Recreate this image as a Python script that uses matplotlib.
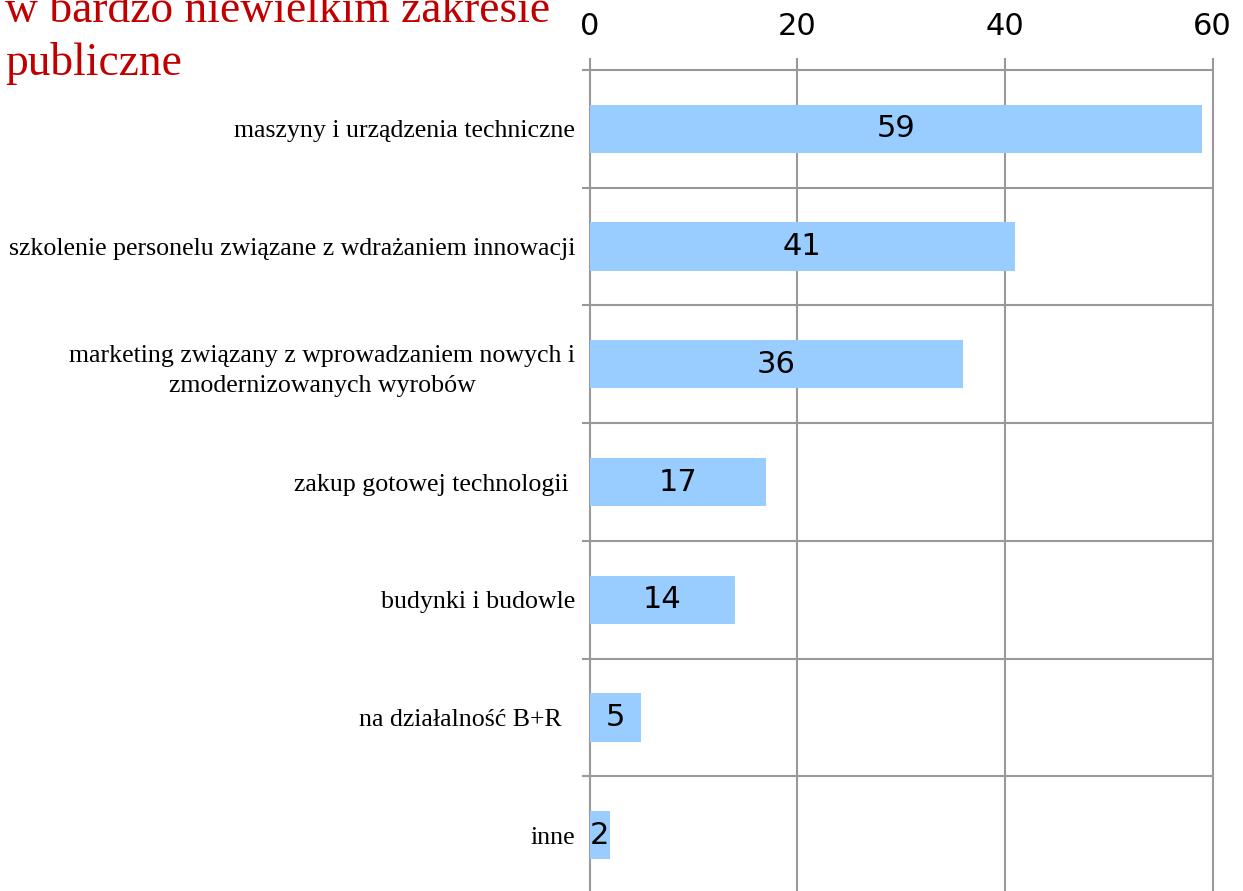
import matplotlib
matplotlib.use("Agg")
import matplotlib.pyplot as plt
import numpy as np

categories = [
    "maszyny i urządzenia techniczne",
    "szkolenie personelu związane z wdrażaniem innowacji",
    "marketing związany z wprowadzaniem nowych i\nzmodernizowanych wyrobów",
    "zakup gotowej technologii ",
    "budynki i budowle",
    "na działalność B+R  ",
    "inne",
]
values = [59, 41, 36, 17, 14, 5, 2]
xticks = [0, 20, 40, 60]
title_lines = ["w bardzo niewielkim zakresie", "publiczne"]

W, H = 1243, 891
fig = plt.figure(figsize=(W / 100, H / 100), dpi=100)
fig.patch.set_facecolor("white")

left, right, top, bottom = 589.5, 1212.7, 70, 894
ax = fig.add_axes([left / W, 1 - bottom / H, (right - left) / W, (bottom - top) / H])

y = np.arange(len(categories))
bars = ax.barh(y, values, height=0.41, color="#99CCFF", zorder=3)
ax.set_xlim(0, 60)
ax.set_ylim(len(categories) - 0.5, -0.5)

ax.bar_label(bars, labels=[str(v) for v in values], label_type="center",
             fontsize=22, fontfamily="DejaVu Sans", zorder=4)

grid_c = "#999999"
lw = 1.5
ax.xaxis.tick_top()
ax.set_xticks(xticks)
ax.set_xticklabels([str(t) for t in xticks], fontsize=22, fontfamily="DejaVu Sans")
ax.tick_params(axis="x", which="major", direction="out", length=8.6, width=lw,
               color=grid_c, pad=12.5)
ax.xaxis.grid(True, color=grid_c, linewidth=lw, zorder=1)

ax.set_yticks(y)
ax.set_yticklabels(categories, fontsize=18.6, fontfamily="Liberation Serif")
for lab in ax.get_yticklabels():
    lab.set_multialignment("center")
    lab.set_linespacing(1.5)
ax.tick_params(axis="y", which="major", length=0, pad=10.4)
ax.set_yticks(np.arange(len(categories) + 1) - 0.5, minor=True)
ax.tick_params(axis="y", which="minor", direction="out", length=5.8, width=lw,
               color=grid_c)
ax.yaxis.grid(True, which="minor", color=grid_c, linewidth=lw, zorder=1)
ax.yaxis.grid(False, which="major")

for s in ax.spines.values():
    s.set_visible(False)
for t in ax.xaxis.get_major_ticks() + ax.yaxis.get_minor_ticks():
    t.gridline.set_clip_on(False)

fig.text(5 / W, 1 - 22 / H, title_lines[0], fontsize=32.8, family="Liberation Serif",
         color="#C00000", ha="left", va="baseline")
fig.text(5 / W, 1 - 75 / H, title_lines[1], fontsize=32.8, family="Liberation Serif",
         color="#C00000", ha="left", va="baseline")

fig.savefig("out.png", dpi=100)
